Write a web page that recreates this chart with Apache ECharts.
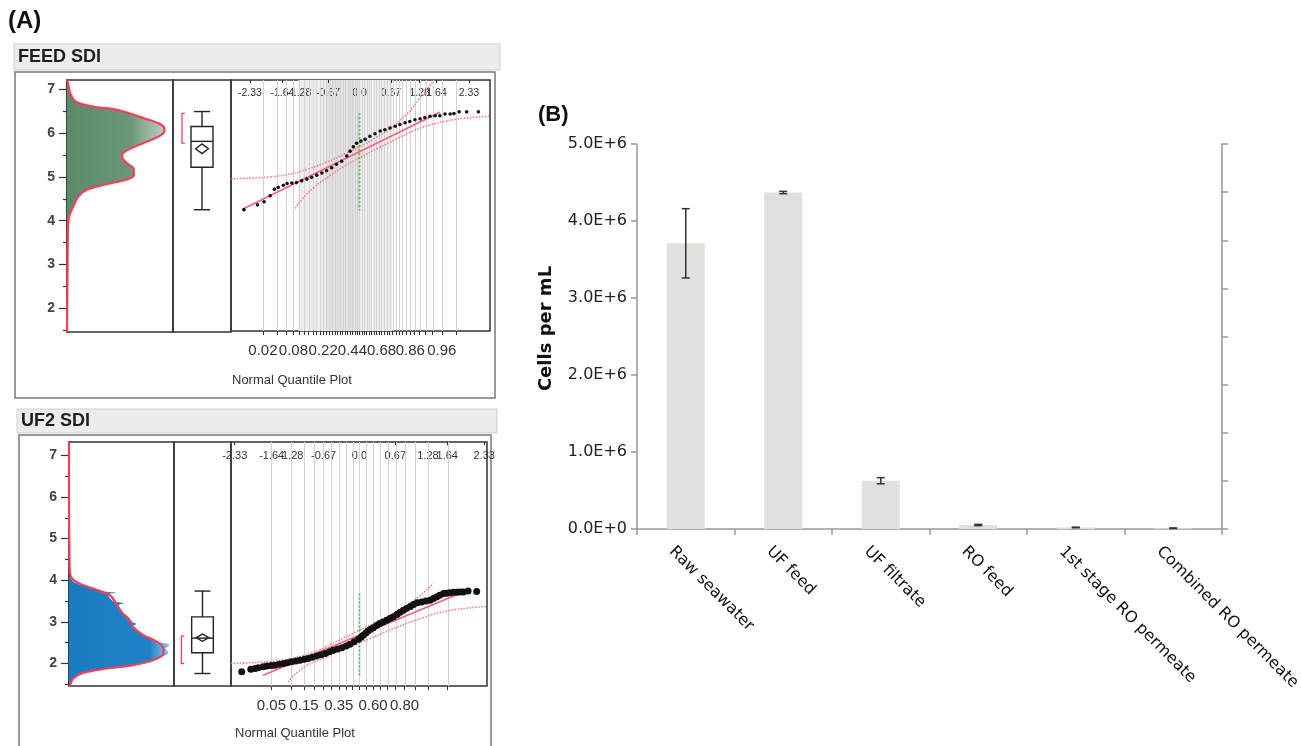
<!DOCTYPE html>
<html><head><meta charset="utf-8">
<script src="https://cdn.jsdelivr.net/npm/echarts@6/dist/echarts.min.js"></script>
<style>html,body{margin:0;padding:0;background:#fff}#c{width:1301px;height:746px}</style>
</head><body><div id="c"></div>
<script>
// ===== Panel (A) data =====
const sdiTicks = [2, 3, 4, 5, 6, 7];
const sdiMinor = [1.5, 2.5, 3.5, 4.5, 5.5, 6.5];
// FEED SDI : density curve [density, SDI]
const feedDensity = [[0,7.21],[0.01,7.14],[0.03,6.91],[0.08,6.72],[0.25,6.60],[0.47,6.53],[0.72,6.34],[0.89,6.19],[0.92,6.07],[0.89,5.96],[0.78,5.83],[0.63,5.68],[0.53,5.55],[0.52,5.45],[0.56,5.32],[0.63,5.17],[0.63,5.03],[0.56,4.94],[0.37,4.83],[0.19,4.71],[0.11,4.56],[0.06,4.33],[0.02,4.10],[0.01,3.88],[0.005,2.89],[0,1.46]];
const feedBox = [4.25, 5.22, 5.81, 6.15, 6.49];      // min, Q1, median, Q3, max
const feedMean = [5.64, 5.53, 5.75];                 // mean, lower CI, upper CI
const feedShortest = [5.77, 6.45];                   // shortest half
const feedQuantile = [[-2.46,4.24],[-2.17,4.35],[-2.03,4.42],[-1.90,4.56],[-1.81,4.71],[-1.73,4.75],[-1.62,4.80],[-1.54,4.84],[-1.44,4.85],[-1.34,4.86],[-1.23,4.90],[-1.12,4.94],[-1.02,4.98],[-0.91,5.03],[-0.80,5.08],[-0.70,5.13],[-0.59,5.20],[-0.49,5.28],[-0.38,5.35],[-0.27,5.47],[-0.20,5.58],[-0.13,5.68],[-0.06,5.76],[0.03,5.81],[0.12,5.85],[0.22,5.92],[0.33,5.98],[0.44,6.04],[0.54,6.07],[0.65,6.11],[0.76,6.15],[0.86,6.19],[0.97,6.23],[1.07,6.26],[1.18,6.30],[1.29,6.32],[1.39,6.35],[1.50,6.38],[1.61,6.39],[1.71,6.39],[1.82,6.43],[1.93,6.43],[2.01,6.44],[2.12,6.48],[2.28,6.48],[2.53,6.48]];
const feedFit = [[-2.47,4.26],[1.71,6.47]];
const feedUpper = [[-2.73,4.95],[-2.3,4.96],[-1.9,4.99],[-1.5,5.05],[-1.1,5.17],[-0.7,5.33],[-0.3,5.52],[0,5.68],[0.3,5.86],[0.65,6.10],[1.0,6.42],[1.29,6.80],[1.57,7.18]];
const feedLower = [[-1.37,4.27],[-1.2,4.50],[-0.98,4.74],[-0.63,5.02],[-0.3,5.25],[0,5.43],[0.4,5.65],[0.79,5.86],[1.14,6.04],[1.5,6.18],[1.86,6.27],[2.21,6.33],[2.76,6.38]];
const feedMid = [[0,6.45],[0,4.22]];
const feedGridZ = [-2.054,-1.751,-1.555,-1.405,-1.282,-1.175,-1.080,-0.994,-0.915,-0.842,-0.772,-0.706,-0.643,-0.583,-0.524,-0.468,-0.412,-0.358,-0.305,-0.253,-0.202,-0.151,-0.100,-0.050,0,0.050,0.100,0.151,0.202,0.253,0.305,0.358,0.412,0.468,0.524,0.583,0.643,0.706,0.772,0.842,0.915,0.994,1.080,1.175,1.282,1.405,1.555,1.751,2.054];
const feedProbZ = [-2.054,-1.405,-0.772,-0.151,0.468,1.080,1.751];
const feedProbLabels = ['0.02','0.08','0.22','0.44','0.68','0.86','0.96'];
// UF2 SDI
const uf2Density = [[0,7.32],[0,6.0],[0.005,4.5],[0.01,4.16],[0.07,3.96],[0.23,3.80],[0.39,3.64],[0.45,3.44],[0.50,3.24],[0.58,3.04],[0.61,2.88],[0.71,2.68],[0.84,2.52],[0.90,2.36],[0.90,2.24],[0.80,2.08],[0.61,1.96],[0.36,1.88],[0.14,1.78],[0.04,1.64],[0.01,1.48],[0,1.46]];
const uf2Hist = [[0,4.10],[0.05,3.95],[0.22,3.80],[0.33,3.73],[0.45,3.70],[0.37,3.66],[0.42,3.50],[0.52,3.45],[0.47,3.40],[0.52,3.20],[0.58,3.02],[0.64,2.95],[0.60,2.88],[0.70,2.68],[0.84,2.52],[0.96,2.45],[0.92,2.36],[0.95,2.25],[0.88,2.15],[0.80,2.08],[0.61,1.96],[0.36,1.88],[0.14,1.78],[0.04,1.64],[0,1.50]];
const uf2Box = [1.76, 2.26, 2.61, 3.12, 3.74];
const uf2Mean = [2.62, 2.535, 2.705];
const uf2Shortest = [2.0, 2.66];
const uf2Quantile = [[-2.20,1.80],[-2.03,1.86],[-1.95,1.88],[-1.89,1.90],[-1.80,1.92],[-1.73,1.94],[-1.65,1.95],[-1.58,1.96],[-1.50,1.98],[-1.42,2.00],[-1.35,2.02],[-1.27,2.04],[-1.19,2.06],[-1.11,2.08],[-1.03,2.10],[-0.96,2.12],[-0.88,2.15],[-0.80,2.18],[-0.72,2.21],[-0.64,2.24],[-0.56,2.28],[-0.49,2.32],[-0.41,2.35],[-0.33,2.38],[-0.25,2.42],[-0.18,2.46],[-0.10,2.52],[-0.02,2.58],[0.03,2.63],[0.07,2.68],[0.12,2.73],[0.16,2.78],[0.21,2.82],[0.26,2.86],[0.32,2.91],[0.38,2.96],[0.44,3.00],[0.51,3.04],[0.57,3.08],[0.63,3.12],[0.70,3.18],[0.76,3.23],[0.82,3.28],[0.88,3.32],[0.95,3.37],[1.01,3.42],[1.08,3.46],[1.16,3.48],[1.24,3.50],[1.32,3.52],[1.38,3.56],[1.44,3.60],[1.50,3.64],[1.57,3.68],[1.63,3.69],[1.69,3.70],[1.76,3.71],[1.82,3.71],[1.88,3.72],[1.94,3.72],[2.03,3.74],[2.19,3.73]];
const uf2Fit = [[-1.80,1.72],[1.94,3.72]];
const uf2Upper = [[-2.40,2.00],[-2.0,2.02],[-1.6,2.06],[-1.2,2.14],[-0.8,2.30],[-0.4,2.55],[0,2.80],[0.4,3.05],[0.8,3.33],[1.1,3.60],[1.38,3.92]];
const uf2Lower = [[-1.33,1.56],[-1.05,1.90],[-0.68,2.12],[-0.24,2.38],[0.2,2.60],[0.7,2.87],[1.19,3.10],[1.63,3.26],[2.38,3.37]];
const uf2Mid = [[0,3.68],[0,1.72]];
const uf2GridZ = [-1.645,-1.282,-1.036,-0.842,-0.674,-0.524,-0.385,-0.253,-0.126,0,0.126,0.253,0.385,0.524,0.674,0.842,1.036,1.282,1.645];
const uf2ProbZ = [-1.645,-1.036,-0.385,0.253,0.842];
const uf2ProbLabels = ['0.05','0.15','0.35','0.60','0.80'];
const topZ = [-2.33,-1.64,-1.28,-0.67,0,0.67,1.28,1.64,2.33];
const topZLabels = ['-2.33','-1.64','-1.28','-0.67','0.0','0.67','1.28','1.64','2.33'];

// ===== Panel (B) data =====
const categories = ['Raw seawater','UF feed','UF filtrate','RO feed','1st stage RO permeate','Combined RO permeate'];
const cellMean = [3.71e6, 4.37e6, 0.627e6, 0.052e6, 0.02e6, 0.01e6];
const cellErr  = [0.45e6, 0.015e6, 0.04e6, 0.008e6, 0.004e6, 0.003e6];

// ===== ranges =====
const F_Y = [1.46, 7.21], U_Y = [1.46, 7.32];
const F_Z = [-2.734, 2.777], U_Z = [-2.40, 2.383];

const SANS = '"Liberation Sans", Arial, sans-serif';
const DJV = '"DejaVu Sans", sans-serif';
const RED = '#f2405a';

function pick(vals, labels) {
  return v => { const i = vals.findIndex(x => Math.abs(x - v) < 1e-6); return i < 0 ? '' : labels[i]; };
}
function polyRender(points, fill, blur) {
  return (params, api) => {
    const pts = points.map(p => api.coord(p));
    const a = api.coord([0, points[0][1]]), b = api.coord([0, points[points.length - 1][1]]);
    return {type: 'polygon', shape: {points: [a].concat(pts, [b]), smooth: 0.25},
      style: {fill: fill, shadowBlur: blur, shadowColor: 'rgba(80,120,100,0.35)'}};
  };
}
function boxRender(b, mean, sh, bx) {
  return (params, api) => {
    const c = (x, y) => api.coord([x, y]);
    const st = {stroke: '#222', lineWidth: 1.4, fill: 'none'};
    const ln = (p, q) => ({type: 'line', shape: {x1: p[0], y1: p[1], x2: q[0], y2: q[1]}, style: st});
    const L = 0.31, R = 0.69, C = 0.5, cL = 0.36, cR = 0.64, dW = 0.11;
    const q1 = c(L, b[1]), q3 = c(R, b[3]);
    const ch = [
      ln(c(C, b[0]), c(C, b[1])), ln(c(C, b[3]), c(C, b[4])),
      ln(c(cL, b[0]), c(cR, b[0])), ln(c(cL, b[4]), c(cR, b[4])),
      {type: 'rect', shape: {x: q1[0], y: q3[1], width: q3[0] - q1[0], height: q1[1] - q3[1]}, style: st},
      ln(c(L, b[2]), c(R, b[2])),
      {type: 'polygon', shape: {points: [c(C - dW, mean[0]), c(C, mean[2]), c(C + dW, mean[0]), c(C, mean[1])]}, style: st},
      {type: 'polyline', shape: {points: [c(bx + 0.05, sh[1]), c(bx, sh[1]), c(bx, sh[0]), c(bx + 0.05, sh[0])]}, style: {stroke: RED, lineWidth: 1.3, fill: 'none'}}
    ];
    return {type: 'group', children: ch};
  };
}
function vLines(zs, yr, color) {
  return (params, api) => ({type: 'group', children: zs.map(z => {
    const a = api.coord([z, yr[0]]), b = api.coord([z, yr[1]]);
    return {type: 'line', shape: {x1: Math.round(a[0]) + 0.5, y1: a[1], x2: Math.round(b[0]) + 0.5, y2: b[1]}, style: {stroke: color, lineWidth: 1}};
  })});
}
function band(z0, z1, yr, color) {
  return (params, api) => {
    const a = api.coord([z0, yr[1]]), b = api.coord([z1, yr[0]]);
    return {type: 'rect', shape: {x: a[0], y: a[1], width: b[0] - a[0], height: b[1] - a[1]}, style: {fill: color}};
  };
}

const gridBase = {show: true, borderColor: '#333', borderWidth: 1.5, backgroundColor: 'transparent', containLabel: false, outerBoundsMode: 'none'};
const grids = [
  Object.assign({}, gridBase, {left: 67, top: 80, width: 106, height: 252}),
  Object.assign({}, gridBase, {left: 173, top: 80, width: 58, height: 252}),
  Object.assign({}, gridBase, {left: 231, top: 80, width: 259, height: 251}),
  Object.assign({}, gridBase, {left: 69, top: 442, width: 105, height: 244}),
  Object.assign({}, gridBase, {left: 174, top: 442, width: 57, height: 244}),
  Object.assign({}, gridBase, {left: 231, top: 442, width: 256, height: 244}),
  {show: false, left: 637, top: 144, width: 585, height: 385, containLabel: false, outerBoundsMode: 'none'},
  {show: false, left: 623, top: 144, width: 585, height: 385, containLabel: false, outerBoundsMode: 'none'}
];
const hidX = (g, mn, mx) => ({gridIndex: g, type: 'value', min: mn, max: mx, show: false});
const hidY = (g, r) => ({gridIndex: g, type: 'value', min: r[0], max: r[1], show: false});
function qBottom(g, r, gz, pz, pl) {
  return {gridIndex: g, type: 'value', position: 'bottom', min: r[0], max: r[1],
    axisLine: {show: false}, splitLine: {show: false},
    axisTick: {show: true, customValues: gz, length: 4, lineStyle: {color: '#333', width: 1}},
    axisLabel: {show: true, customValues: pz, formatter: pick(pz, pl), fontSize: 15, color: '#333', margin: 12, fontFamily: SANS, hideOverlap: false}};
}
function qTop(g, r, fs) {
  return {gridIndex: g, type: 'value', position: 'top', min: r[0], max: r[1],
    axisLine: {show: false}, splitLine: {show: false},
    axisTick: {show: true, inside: true, customValues: topZ, length: 3, lineStyle: {color: '#222', width: 1}},
    axisLabel: {show: true, inside: true, customValues: topZ, formatter: pick(topZ, topZLabels), fontSize: fs, color: '#333', margin: 8, fontFamily: SANS, hideOverlap: false}};
}
function sdiY(g, r) {
  return {gridIndex: g, type: 'value', position: 'left', min: r[0], max: r[1],
    axisLine: {show: true, lineStyle: {color: '#333', width: 1.5}}, splitLine: {show: false},
    axisTick: {show: true, customValues: sdiTicks, length: 8, lineStyle: {color: '#333', width: 1.2}},
    axisLabel: {show: true, customValues: sdiTicks, formatter: v => String(Math.round(v)), fontSize: 14, fontWeight: 'bold', color: '#444', margin: 12, fontFamily: SANS}};
}
function sdiMinorY(g, r) {
  return {gridIndex: g, type: 'value', position: 'left', min: r[0], max: r[1],
    axisLine: {show: false}, splitLine: {show: false}, axisLabel: {show: false},
    axisTick: {show: true, customValues: sdiMinor, length: 4, lineStyle: {color: '#333', width: 1.2}}};
}

const xAxes = [
  hidX(0, 0, 1), hidX(1, 0, 1), qBottom(2, F_Z, feedGridZ, feedProbZ, feedProbLabels), qTop(2, F_Z, 10.5),
  hidX(3, 0, 1), hidX(4, 0, 1), qBottom(5, U_Z, uf2GridZ, uf2ProbZ, uf2ProbLabels), qTop(5, U_Z, 11),
  {gridIndex: 6, type: 'category', data: categories,
    axisLine: {show: true, lineStyle: {color: '#999', width: 1.5}},
    axisTick: {show: true, interval: 0, length: 6, lineStyle: {color: '#999', width: 1.5}},
    axisLabel: {show: false, interval: 0}, splitLine: {show: false}},
  {gridIndex: 7, type: 'category', data: categories,
    axisLine: {show: false}, axisTick: {show: false}, splitLine: {show: false},
    axisLabel: {show: true, rotate: -45, interval: 0, margin: 20, fontSize: 16, fontFamily: DJV, color: '#111', hideOverlap: false}}
];
const yAxes = [
  sdiY(0, F_Y), sdiMinorY(0, F_Y), hidY(1, F_Y), hidY(2, F_Y),
  sdiY(3, U_Y), sdiMinorY(3, U_Y), hidY(4, U_Y), hidY(5, U_Y),
  {gridIndex: 6, type: 'value', position: 'left', min: 0, max: 5e6, interval: 1e6,
    name: 'Cells per mL', nameLocation: 'middle', nameGap: 82, nameRotate: 90,
    nameTextStyle: {fontFamily: DJV, fontWeight: 'bold', fontSize: 18, color: '#111', padding: [0, 0, 0, 16]},
    axisLine: {show: true, lineStyle: {color: '#999', width: 1.5}},
    axisTick: {show: true, length: 6, lineStyle: {color: '#999', width: 1.5}},
    axisLabel: {show: true, fontSize: 16, fontFamily: DJV, color: '#222', margin: 10,
      formatter: v => v === 0 ? '0.0E+0' : (v / 1e6).toFixed(1) + 'E+6'},
    splitLine: {show: false}},
  {gridIndex: 6, type: 'value', position: 'right', min: 0, max: 8, interval: 1,
    axisLine: {show: true, lineStyle: {color: '#999', width: 1.5}},
    axisTick: {show: true, length: 6, lineStyle: {color: '#999', width: 1.5}},
    axisLabel: {show: false}, splitLine: {show: false}},
  {gridIndex: 7, type: 'value', min: 0, max: 5e6, show: false}
];

const green = new echarts.graphic.LinearGradient(0, 0, 1, 0, [
  {offset: 0, color: '#5b8a69'}, {offset: 0.65, color: '#6a977a'}, {offset: 1, color: 'rgba(150,185,160,0.55)'}]);
const blue = new echarts.graphic.LinearGradient(0, 0, 1, 0, [
  {offset: 0, color: '#1a7bc0'}, {offset: 0.8, color: '#1f82c8'}, {offset: 1, color: 'rgba(90,170,225,0.7)'}]);

function cust(xi, yi, render, z, d) {
  return {type: 'custom', xAxisIndex: xi, yAxisIndex: yi, data: [d || [0.5, 4]], renderItem: render, z: z, silent: true, clip: false};
}
function ln(xi, yi, data, color, width, type, z, smooth) {
  return {type: 'line', xAxisIndex: xi, yAxisIndex: yi, data: data, symbol: 'none', smooth: smooth || false,
    lineStyle: {color: color, width: width, type: type}, z: z, silent: true};
}
function pts(xi, yi, data, size) {
  return {type: 'scatter', xAxisIndex: xi, yAxisIndex: yi, data: data, symbolSize: size,
    itemStyle: {color: '#111', opacity: 1}, z: 6, silent: true};
}

const series = [
  // FEED histogram
  cust(0, 0, polyRender(feedDensity, green, 4), 2),
  ln(0, 0, feedDensity, RED, 2.2, 'solid', 3, 0.35),
  // FEED box
  cust(1, 2, boxRender(feedBox, feedMean, feedShortest, 0.155), 3),
  // FEED quantile
  cust(2, 3, band(-1.3, -0.7, F_Y, '#ededed'), 0),
  cust(2, 3, band(-0.7, 0, F_Y, '#e1e1e1'), 0),
  cust(2, 3, band(0, 0.7, F_Y, '#efefef'), 0),
  cust(2, 3, vLines(feedGridZ, F_Y, '#d4d4d4'), 1),
  ln(2, 3, feedMid, '#55b86a', 2, 'dotted', 2),
  ln(2, 3, feedUpper, '#ff7383', 1.5, 'dotted', 3, true),
  ln(2, 3, feedLower, '#ff7383', 1.5, 'dotted', 3, true),
  ln(2, 3, feedFit, '#ff6074', 1.6, 'solid', 3),
  pts(2, 3, feedQuantile, 3.6),
  // UF2 histogram
  cust(4, 4, polyRender(uf2Hist, blue, 0), 2),
  ln(4, 4, uf2Density, RED, 2.2, 'solid', 3, 0.35),
  // UF2 box
  cust(5, 6, boxRender(uf2Box, uf2Mean, uf2Shortest, 0.13), 3),
  // UF2 quantile
  cust(6, 7, vLines(uf2GridZ, U_Y, '#d4d4d4'), 1),
  ln(6, 7, uf2Mid, '#55b86a', 2, 'dotted', 2),
  ln(6, 7, uf2Upper, '#ff7383', 1.5, 'dotted', 3, true),
  ln(6, 7, uf2Lower, '#ff7383', 1.5, 'dotted', 3, true),
  ln(6, 7, uf2Fit, '#ff6074', 1.6, 'solid', 3),
  pts(6, 7, uf2Quantile, 7),
  // Panel B bars
  {type: 'bar', xAxisIndex: 8, yAxisIndex: 8, data: cellMean, barWidth: '39%',
    itemStyle: {color: '#e0e0dc'}, silent: true, z: 2},
  {type: 'custom', xAxisIndex: 8, yAxisIndex: 8, z: 4, silent: true,
    data: categories.map((c, i) => [i, cellMean[i], cellErr[i]]), encode: {x: 0, y: 1},
    renderItem: (params, api) => {
      const i = api.value(0), m = api.value(1), e = api.value(2);
      const t = api.coord([i, m + e]), b = api.coord([i, m - e]);
      const st = {stroke: '#333', lineWidth: 1.5};
      const w = 4;
      return {type: 'group', children: [
        {type: 'line', shape: {x1: t[0], y1: t[1], x2: b[0], y2: b[1]}, style: st},
        {type: 'line', shape: {x1: t[0] - w, y1: t[1], x2: t[0] + w, y2: t[1]}, style: st},
        {type: 'line', shape: {x1: b[0] - w, y1: b[1], x2: b[0] + w, y2: b[1]}, style: st}]};
    }}
];

const T = (x, y, text, font, fill) => ({type: 'text', x: x, y: y, silent: true,
  style: {text: text, font: font, fill: fill || '#222', align: 'left', verticalAlign: 'middle'}});
const graphic = [
  T(8, 21, '(A)', 'bold 24px ' + SANS, '#111'),
  {type: 'rect', silent: true, shape: {x: 14, y: 44, width: 486, height: 26}, style: {fill: '#ececec', stroke: '#cfcfcf', lineWidth: 1}},
  T(18, 57.5, 'FEED SDI', 'bold 18px ' + SANS, '#1e1e1e'),
  {type: 'rect', silent: true, shape: {x: 15, y: 72, width: 480, height: 326}, style: {fill: 'none', stroke: '#7a7a7a', lineWidth: 1.5}},
  T(232, 380, 'Normal Quantile Plot', '13px ' + SANS, '#333'),
  {type: 'rect', silent: true, shape: {x: 17, y: 409, width: 480, height: 24}, style: {fill: '#ececec', stroke: '#cfcfcf', lineWidth: 1}},
  T(21, 421, 'UF2 SDI', 'bold 18px ' + SANS, '#1e1e1e'),
  {type: 'rect', silent: true, shape: {x: 19, y: 435, width: 472, height: 330}, style: {fill: 'none', stroke: '#7a7a7a', lineWidth: 1.5}},
  T(235, 733, 'Normal Quantile Plot', '13px ' + SANS, '#333'),
  T(538, 115, '(B)', 'bold 22px ' + SANS, '#111')
];

const chart = echarts.init(document.getElementById('c'), null, {renderer: 'canvas', width: 1301, height: 746});
chart.setOption({animation: false, backgroundColor: '#fff', textStyle: {fontFamily: SANS},
  grid: grids, xAxis: xAxes, yAxis: yAxes, series: series, graphic: graphic});
</script></body></html>
